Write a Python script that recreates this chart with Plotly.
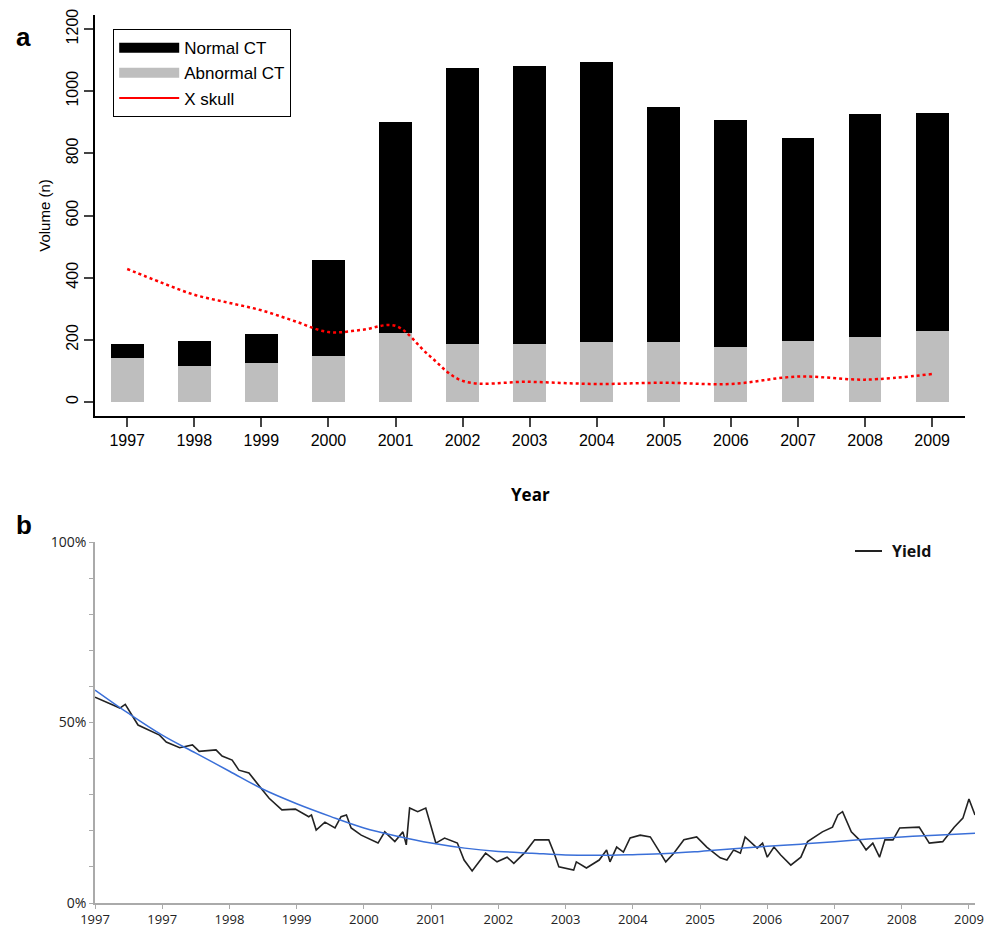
import plotly.graph_objects as go

# ---- panel a: CT volumes per year
years = [1997, 1998, 1999, 2000, 2001, 2002, 2003, 2004, 2005, 2006, 2007, 2008, 2009]
abnormal_ct = [140, 115, 125, 148, 222, 188, 188, 192, 192, 178, 196, 208, 228]
normal_ct = [48, 80, 93, 310, 680, 885, 892, 903, 758, 730, 654, 717, 702]
skull_x = [1997, 1997.5, 1998, 1998.5, 1999, 1999.5, 2000, 2000.5, 2001, 2001.5, 2002,
           2003, 2004, 2005, 2006, 2007, 2008, 2009]
skull_y = [428, 385, 345, 320, 295, 260, 225, 232, 245, 150, 68,
           65, 58, 62, 58, 82, 72, 90]

# ---- panel b: yield over time (t = years since start of axis)
yield_t = [0, 0.37, 0.45, 0.64, 0.96, 1.06, 1.26, 1.45, 1.55, 1.80, 1.89, 2.04, 2.14, 2.29,
           2.47, 2.59, 2.78, 2.98, 3.18, 3.22, 3.29, 3.42, 3.57, 3.66, 3.74, 3.81, 3.96,
           4.21, 4.31, 4.46, 4.58, 4.63, 4.68, 4.80, 4.92, 4.98, 5.07, 5.20, 5.39, 5.49,
           5.61, 5.81, 5.98, 6.13, 6.23, 6.40, 6.54, 6.75, 6.83, 6.90, 7.12, 7.16, 7.31,
           7.50, 7.61, 7.66, 7.76, 7.86, 7.96, 8.11, 8.26, 8.41, 8.49, 8.61, 8.76, 8.95,
           9.10, 9.30, 9.40, 9.50, 9.60, 9.67, 9.85, 9.93, 10.0, 10.1, 10.2, 10.35, 10.5,
           10.6, 10.82, 10.97, 11.05, 11.12, 11.25, 11.37, 11.47, 11.57, 11.67, 11.75,
           11.87, 11.97, 12.14, 12.26, 12.41, 12.61, 12.78, 12.91, 13.0, 13.09]
yield_pct = [57, 54, 55, 49.3, 46.5, 44.6, 43, 43.8, 42, 42.4, 40.7, 39.6, 36.8, 36,
             31.8, 29, 25.8, 26, 23.9, 24.4, 20.2, 22.4, 20.8, 23.9, 24.4, 20.8, 18.8,
             16.6, 19.7, 17, 19.7, 16.1, 26.3, 25.3, 26.3, 22.2, 16.6, 18, 16.6, 11.9,
             8.9, 13.8, 11.4, 12.7, 11, 14.1, 17.5, 17.5, 13.8, 10, 9.1, 11.4, 9.7,
             11.9, 14.7, 11.4, 15.5, 14.1, 18, 18.8, 18.3, 13.8, 11.4, 13.8, 17.5, 18.3,
             15.5, 12.5, 11.9, 14.7, 13.8, 18.3, 15.2, 16.6, 12.7, 15.5, 13.3, 10.5, 12.7,
             17, 19.7, 21, 24.4, 25.3, 19.7, 17.5, 14.7, 16.6, 12.7, 17.5,
             17.5, 20.8, 21, 21, 16.6, 17, 21, 23.5, 28.8, 24.4]
trend_t = [0, 0.5, 1, 1.5, 2, 2.5, 3, 3.5, 4, 4.5, 5, 5.5, 6, 6.5, 7, 7.5, 8, 8.5,
           9, 9.5, 10, 10.5, 11, 11.5, 12, 12.5, 13.1]
trend_pct = [59, 52.5, 46.5, 41.5, 36.5, 31.5, 27.5, 24, 20.8, 18.5, 16.6, 15.2, 14.3,
             13.8, 13.3, 13.2, 13.4, 13.7, 14.3, 15, 15.7, 16.3, 17.0, 17.7, 18.3, 18.8, 19.3]
b_tick_labels = ["1997", "1997", "1998", "1999", "2000", "2001", "2002", "2003",
                 "2004", "2005", "2006", "2007", "2008", "2009"]

# page has an 8px body margin; let the figure run a little past the bottom edge
OFF = 8
W, H = 1005 - 2 * OFF, 929 - OFF + 12
def px_x(p): return (p - OFF) / W
def px_y(p): return 1 - (p - OFF) / H

fig = go.Figure()

fig.add_trace(go.Bar(x=years, y=abnormal_ct, marker=dict(color="#bebebe", line=dict(width=0)),
                     width=0.49, showlegend=False, xaxis="x", yaxis="y"))
fig.add_trace(go.Bar(x=years, y=normal_ct, marker=dict(color="black", line=dict(width=0)),
                     width=0.49, showlegend=False, xaxis="x", yaxis="y"))
fig.add_trace(go.Scatter(x=skull_x, y=skull_y, mode="lines", line=dict(color="red", width=2.5, dash="dot", shape="spline"),
                         showlegend=False, xaxis="x", yaxis="y"))
# legend entries (line style like the R legend)
fig.add_trace(go.Scatter(x=[None], y=[None], mode="lines", name="Normal CT",
                         line=dict(color="black", width=11), xaxis="x", yaxis="y"))
fig.add_trace(go.Scatter(x=[None], y=[None], mode="lines", name="Abnormal CT",
                         line=dict(color="#bebebe", width=11), xaxis="x", yaxis="y"))
fig.add_trace(go.Scatter(x=[None], y=[None], mode="lines", name="X skull",
                         line=dict(color="red", width=2), xaxis="x", yaxis="y"))

fig.add_trace(go.Scatter(x=yield_t, y=yield_pct, mode="lines", line=dict(color="#222222", width=1.6),
                         showlegend=False, xaxis="x2", yaxis="y2"))
fig.add_trace(go.Scatter(x=trend_t, y=trend_pct, mode="lines", line=dict(color="#3a6fd8", width=1.5, shape="spline"),
                         showlegend=False, xaxis="x2", yaxis="y2"))

afont = dict(family="Liberation Sans, Arial", size=16, color="black")
bfont = dict(family="Open Sans, DejaVu Sans", size=13, color="#222")

fig.update_layout(
    width=W, height=H, paper_bgcolor="white", plot_bgcolor="white",
    margin=dict(l=0, r=0, t=0, b=0), barmode="stack", bargap=0,
    xaxis=dict(domain=[px_x(95), px_x(965)], range=[1996.52, 2009.49], tickvals=years,
               ticks="outside", ticklen=9, tickwidth=1.5, showline=True, linewidth=1.5, linecolor="black",
               showgrid=False, zeroline=False, tickfont=afont, anchor="y", automargin=False),
    yaxis=dict(domain=[px_y(416), px_y(15)], range=[-45, 1245], tickvals=[0, 200, 400, 600, 800, 1000, 1200],
               ticks="outside", ticklen=9, tickwidth=1.5, showline=True, linewidth=1.5, linecolor="black",
               showgrid=False, zeroline=False, tickfont=afont, tickangle=-90, anchor="x", automargin=False,
               title=dict(text="Volume (n)", font=dict(family="Liberation Sans, Arial", size=15, color="black"),
                          standoff=10)),
    xaxis2=dict(domain=[px_x(95), px_x(975)], range=[0, 13.09], tickvals=list(range(14)),
                ticktext=b_tick_labels, ticks="outside", ticklen=4, tickcolor="#aaa",
                showline=True, linewidth=1.5, linecolor="#aaa", showgrid=False, zeroline=False,
                tickfont=bfont, anchor="y2", automargin=False),
    yaxis2=dict(domain=[px_y(903), px_y(542)], range=[0, 100], tickvals=[0, 50, 100],
                ticktext=["0%", "50%", "100%"], ticks="outside", ticklen=4, tickcolor="#aaa",
                minor=dict(dtick=10, ticks="outside", ticklen=4, tickcolor="#aaa"),
                showline=True, linewidth=1.5, linecolor="#aaa", showgrid=False, zeroline=False,
                tickfont=dict(family="Open Sans, DejaVu Sans", size=14, color="#222"),
                anchor="x2", automargin=False),
    legend=dict(x=px_x(113), y=px_y(29), xanchor="left", yanchor="top", bordercolor="black",
                borderwidth=1.2, bgcolor="white", traceorder="normal", itemwidth=60,
                font=dict(family="Liberation Sans, Arial", size=17, color="black")),
    annotations=[
        dict(text="<b>a</b>", x=px_x(14), y=px_y(20), xref="paper", yref="paper", showarrow=False,
             font=dict(family="Liberation Sans, Arial", size=26, color="black")),
        dict(text="<b>b</b>", x=px_x(14), y=px_y(525), xref="paper", yref="paper", showarrow=False,
             font=dict(family="Liberation Sans, Arial", size=26, color="black")),
        dict(text="<b>Year</b>", x=px_x(530), y=px_y(495), xref="paper", yref="paper", showarrow=False,
             font=dict(family="Open Sans, DejaVu Sans", size=17, color="black")),
        dict(text="<b>Yield</b>", x=px_x(890), y=px_y(551), xref="paper", yref="paper", showarrow=False,
             xanchor="left", font=dict(family="Open Sans, DejaVu Sans", size=16, color="#111")),
    ],
    shapes=[dict(type="line", xref="paper", yref="paper", x0=px_x(855), x1=px_x(882),
                 y0=px_y(551), y1=px_y(551), line=dict(color="#222", width=2))],
)

fig.write_html("out.html")
